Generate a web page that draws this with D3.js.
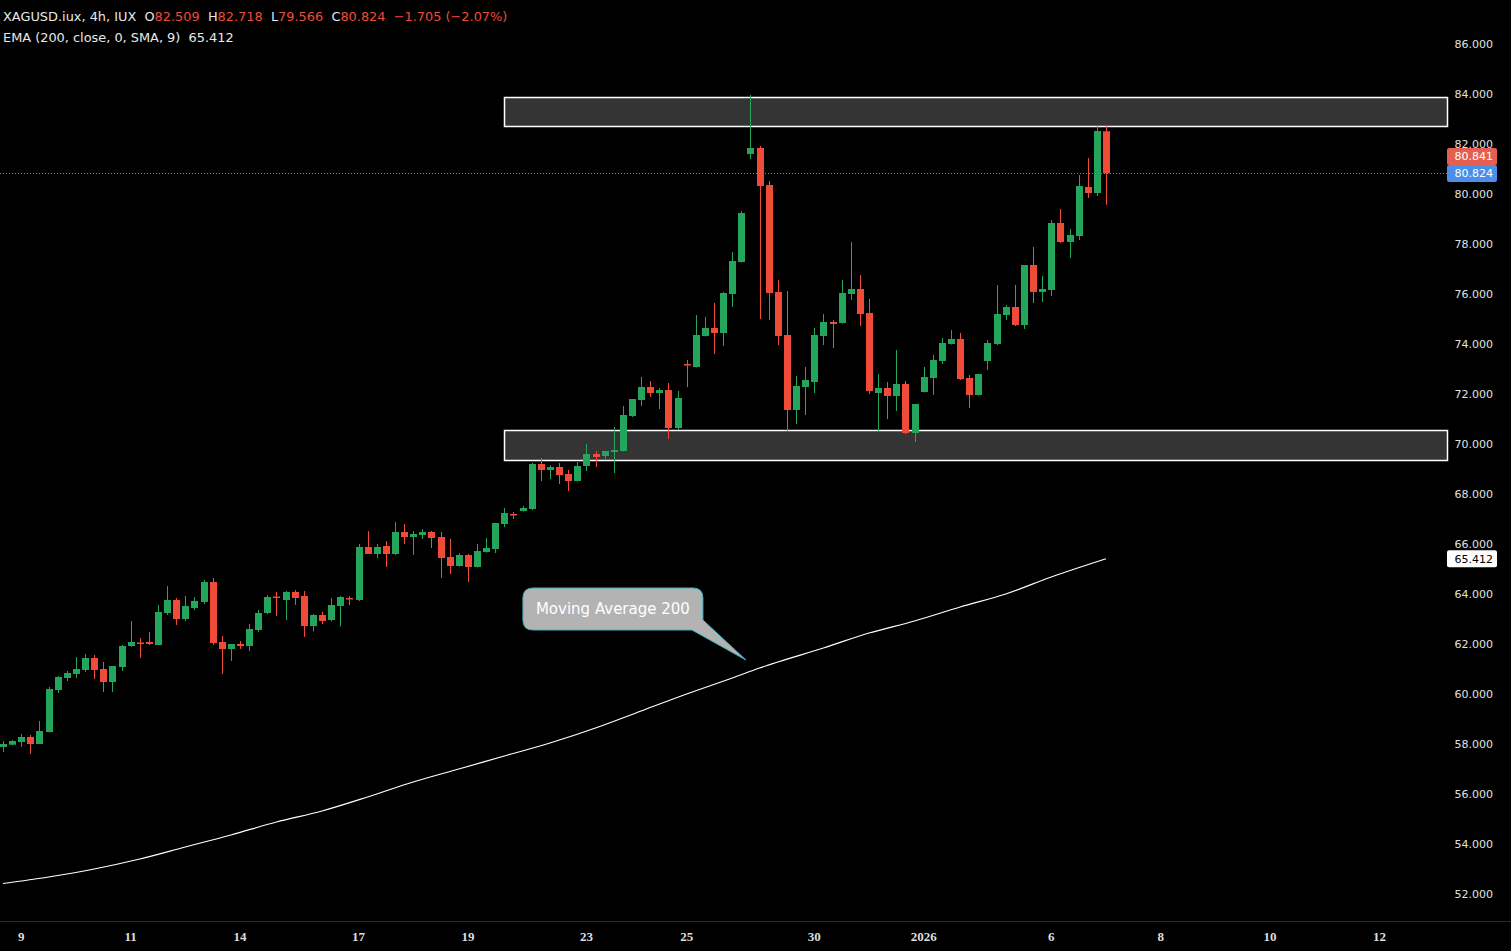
<!DOCTYPE html>
<html>
<head>
<meta charset="utf-8">
<script src="https://cdn.jsdelivr.net/npm/d3@7"></script>
<style>
  html, body { margin: 0; padding: 0; background: #000; }
  svg { display: block; }
</style>
</head>
<body>
<div id="chart"></div>
<script>
// 4h candles
var opens = [57.88,57.97,58.08,58.28,58.00,58.48,60.16,60.64,60.80,60.96,
  61.44,61.00,60.48,61.08,61.92,62.06,62.08,61.96,63.24,63.76,
  63.00,63.44,63.68,64.48,62.08,61.80,62.00,61.92,62.56,63.24,
  63.90,63.76,64.08,63.92,62.72,63.16,62.96,63.52,63.84,63.76,
  65.88,65.60,65.92,65.60,66.48,66.28,66.36,66.48,66.28,65.48,
  65.12,65.56,65.08,65.68,65.80,66.80,67.20,67.32,67.40,69.20,
  68.96,69.08,68.80,68.52,69.12,69.60,69.52,69.68,69.72,71.12,
  71.76,72.28,72.04,72.16,70.64,73.20,73.08,74.32,74.64,74.44,
  76.00,77.28,81.60,81.84,80.36,76.08,74.36,71.36,72.28,72.48,
  74.32,74.88,74.84,76.00,76.20,75.24,72.04,72.24,71.92,72.40,
  70.44,72.08,72.64,73.32,74.00,74.20,72.64,71.96,73.32,74.00,
  75.16,75.48,74.76,77.16,76.08,76.16,78.84,78.08,78.32,80.28,
  80.04,82.509];
var highs = [58.12,58.16,58.40,58.36,58.92,60.28,60.72,60.92,61.48,61.60,
  61.56,61.28,61.12,61.96,62.92,62.24,62.48,63.56,64.32,63.84,
  63.92,63.88,64.56,64.64,62.32,62.00,62.12,62.80,63.36,63.96,
  64.08,64.12,64.16,64.12,63.20,63.30,63.84,63.92,63.92,66.00,
  66.52,66.00,66.12,66.88,66.80,66.52,66.60,66.52,66.48,66.20,
  65.64,65.60,66.00,66.24,66.84,67.44,67.28,67.52,69.24,69.44,
  69.16,69.24,68.96,69.28,70.00,69.72,69.72,70.68,71.52,71.80,
  72.68,72.52,72.24,72.44,72.12,73.36,75.16,75.08,75.64,76.08,
  77.68,79.32,83.96,81.92,80.52,76.56,76.12,72.72,73.08,74.64,
  75.20,74.96,76.56,78.08,76.76,75.80,72.80,72.48,73.76,72.52,
  71.60,73.08,73.56,74.24,74.56,74.44,72.76,72.80,74.16,76.36,
  75.56,76.36,77.16,77.88,76.72,78.96,79.40,78.60,80.76,81.44,
  82.76,82.718];
var lows = [57.68,57.95,57.88,57.60,58.00,58.46,60.04,60.52,60.64,60.88,
  60.60,60.08,60.08,60.92,61.88,61.44,61.96,61.96,63.16,62.76,
  62.92,63.36,63.60,61.96,60.80,61.32,61.80,61.72,62.48,63.20,
  63.12,62.96,63.56,62.28,62.50,62.80,62.90,62.70,63.56,63.72,
  65.60,65.44,65.08,65.56,66.00,65.56,66.20,65.84,64.64,64.80,
  65.10,64.48,65.06,65.66,65.64,66.68,67.00,67.30,67.36,68.52,
  68.60,68.40,68.12,68.50,68.92,69.08,69.40,68.84,69.70,71.08,
  71.52,71.88,71.40,70.20,70.56,72.28,73.06,74.30,73.60,73.92,
  75.48,77.26,81.40,75.00,74.96,73.96,70.52,70.80,71.16,72.04,
  73.96,73.84,74.82,75.76,74.72,72.00,70.52,71.00,71.32,70.40,
  70.08,72.06,71.96,73.20,73.98,72.56,71.44,71.94,72.96,73.96,
  74.96,74.72,74.60,75.64,75.68,75.92,78.04,77.44,78.16,79.84,
  79.92,79.566];
var closes = [58.00,58.12,58.28,58.00,58.52,60.20,60.68,60.84,61.00,61.44,
  60.96,60.48,61.12,61.92,62.08,62.02,62.00,63.28,63.76,63.00,
  63.52,63.72,64.48,62.04,61.80,62.00,61.92,62.60,63.24,63.88,
  63.84,64.08,63.84,62.72,63.16,62.92,63.56,63.88,63.80,65.88,
  65.60,65.88,65.60,66.48,66.28,66.40,66.48,66.24,65.44,65.12,
  65.56,65.08,65.72,65.84,66.84,67.24,67.16,67.44,69.20,68.96,
  69.08,68.76,68.52,69.12,69.60,69.48,69.72,69.76,71.16,71.80,
  72.28,72.04,72.16,70.64,71.84,73.16,74.36,74.64,74.44,76.04,
  77.32,79.24,81.84,80.32,76.04,74.32,71.36,72.32,72.56,74.36,
  74.88,74.80,76.04,76.20,75.20,72.12,72.24,71.92,72.40,70.44,
  71.60,72.68,73.36,74.04,74.20,72.60,71.96,72.80,74.04,75.20,
  75.48,74.76,77.16,76.08,76.20,78.84,78.08,78.36,80.32,80.04,
  82.52,80.824];

// moving average 200, read at a few candles
var maIndex = [0,5,10,15,20,25,30,35,40,45,50,55,60,65,70,75,80,83,85,90,95,100,105,110,115,121];
var maValues = [52.42,52.68,53.00,53.40,53.88,54.36,54.88,55.32,55.88,56.48,57.00,57.52,58.04,58.64,
  59.32,60.00,60.64,61.04,61.28,61.84,62.44,62.92,63.48,64.00,64.68,65.41];

var dayLabels = ['9','11','14','17','19','23','25','30','2026','6','8','10','12'];
var dayIndex = [2,14,26,39,51,64,75,89,101,115,127,139,151];
var priceTicks = [52,54,56,58,60,62,64,66,68,70,72,74,76,78,80,82,84,86];

// support / resistance boxes
var zoneTops = [83.88, 70.56];
var zoneBottoms = [82.72, 69.36];
var zoneStart = 55;

var lastPrice = 80.824;
var askPrice = 80.841;
var maLast = 65.412;

var green = '#23a65c', red = '#f04b39';

function drawChart(id) {
  var W = 1511, H = 951, axisX = 1447;

  var svg = d3.select(id).append('svg')
      .attr('width', W)
      .attr('height', H)
      .style('background', '#000');

  var x = d3.scaleLinear().domain([0, 121]).range([3, 1106]);
  var y = d3.scaleLinear().domain([52, 86]).range([894, 44]);

  // zones
  zoneTops.forEach(function(t, k) {
    svg.append('rect')
      .attr('x', Math.round(x(zoneStart)) + 0.5)
      .attr('y', Math.round(y(t)) + 0.5)
      .attr('width', axisX - Math.round(x(zoneStart)))
      .attr('height', y(zoneBottoms[k]) - y(t))
      .style('fill', '#343434')
      .style('stroke', '#ffffff')
      .style('stroke-width', 1.5);
  });

  // last price dotted line
  svg.append('line')
    .attr('x1', 0).attr('x2', axisX)
    .attr('y1', Math.round(y(lastPrice)) + 0.5).attr('y2', Math.round(y(lastPrice)) + 0.5)
    .style('stroke', '#4a8fea')
    .style('stroke-width', 1)
    .style('stroke-dasharray', '1,2');

  // moving average
  var maPts = maIndex.map(function(d, i) { return [x(d), y(maValues[i])]; });
  svg.append('path')
    .attr('d', d3.line().curve(d3.curveMonotoneX)(maPts))
    .style('fill', 'none')
    .style('stroke', '#ffffff')
    .style('stroke-width', 1.2);

  // candles
  var idx = d3.range(opens.length);
  var g = svg.append('g');
  g.selectAll('.wick').data(idx).enter()
    .append('line')
    .attr('x1', function(i) { return Math.round(x(i)) + 0.5; })
    .attr('x2', function(i) { return Math.round(x(i)) + 0.5; })
    .attr('y1', function(i) { return y(highs[i]); })
    .attr('y2', function(i) { return y(lows[i]); })
    .style('stroke', function(i) { return closes[i] < opens[i] ? red : green; })
    .style('stroke-width', 1);

  g.selectAll('.body').data(idx).enter()
    .append('rect')
    .attr('x', function(i) { return Math.round(x(i)) - 3; })
    .attr('width', 7)
    .attr('y', function(i) { return y(Math.max(opens[i], closes[i])); })
    .attr('height', function(i) { return Math.max(1.5, Math.abs(y(opens[i]) - y(closes[i]))); })
    .style('fill', function(i) { return closes[i] < opens[i] ? red : green; });

  // callout
  var tipX = x(81.5), tipY = y(61.36);
  var bx = tipX - 223, by = tipY - 72, bw = 180, bh = 42, r = 10;
  var p = 'M' + (bx + r) + ',' + by + ' H' + (bx + bw - r) +
    ' Q' + (bx + bw) + ',' + by + ' ' + (bx + bw) + ',' + (by + r) +
    ' V' + (by + bh - 10) + ' L' + tipX + ',' + tipY +
    ' L' + (bx + bw - 11) + ',' + (by + bh) + ' H' + (bx + r) +
    ' Q' + bx + ',' + (by + bh) + ' ' + bx + ',' + (by + bh - r) +
    ' V' + (by + r) + ' Q' + bx + ',' + by + ' ' + (bx + r) + ',' + by + ' Z';
  svg.append('path')
    .attr('d', p)
    .style('fill', '#b3b3b3')
    .style('stroke', '#3cb2c0')
    .style('stroke-width', 1);
  svg.append('text')
    .attr('x', bx + 13).attr('y', by + 26)
    .text('Moving Average 200')
    .style('font-family', 'DejaVu Sans')
    .style('font-size', '15px')
    .style('fill', '#ffffff');

  // bottom separator
  svg.append('line')
    .attr('x1', 0).attr('x2', W)
    .attr('y1', 921.5).attr('y2', 921.5)
    .style('stroke', '#2a2d35')
    .style('stroke-width', 1);

  // time labels
  svg.selectAll('.tl').data(dayLabels).enter()
    .append('text')
    .attr('x', function(d, i) { return x(dayIndex[i]); })
    .attr('y', 941)
    .attr('text-anchor', 'middle')
    .text(function(d) { return d; })
    .style('font-family', 'Liberation Sans Narrow')
    .style('font-weight', 'bold')
    .style('font-size', '13px')
    .style('fill', '#dedede');

  // price labels
  svg.selectAll('.pl').data(priceTicks).enter()
    .append('text')
    .attr('x', 1493)
    .attr('y', function(d) { return y(d) + 4; })
    .attr('text-anchor', 'end')
    .text(function(d) { return d3.format('.3f')(d); })
    .style('font-family', 'DejaVu Sans')
    .style('font-size', '11px')
    .style('fill', '#e0e0e0');

  function priceTag(cy, val, bg, fg) {
    svg.append('rect')
      .attr('x', axisX).attr('y', cy - 8.5)
      .attr('width', 50).attr('height', 17)
      .attr('rx', 2)
      .style('fill', bg);
    svg.append('text')
      .attr('x', axisX + 46).attr('y', cy + 4)
      .attr('text-anchor', 'end')
      .text(d3.format('.3f')(val))
      .style('font-family', 'DejaVu Sans')
      .style('font-size', '11px')
      .style('fill', fg);
  }
  priceTag(y(lastPrice), lastPrice, '#4a8fea', '#ffffff');
  priceTag(y(lastPrice) - 17, askPrice, '#e35f4f', '#ffffff');
  priceTag(y(maLast), maLast, '#ffffff', '#000000');

  // header
  var h1 = svg.append('text')
    .attr('x', 3).attr('y', 21)
    .style('font-family', 'DejaVu Sans')
    .style('font-size', '12.9px')
    .style('fill', '#e8e8e8')
    .attr('xml:space', 'preserve');
  h1.append('tspan').text('XAGUSD.iux, 4h, IUX  O');
  h1.append('tspan').text('82.509').style('fill', red);
  h1.append('tspan').text('  H');
  h1.append('tspan').text('82.718').style('fill', red);
  h1.append('tspan').text('  L');
  h1.append('tspan').text('79.566').style('fill', red);
  h1.append('tspan').text('  C');
  h1.append('tspan').text('80.824  \u22121.705 (\u22122.07%)').style('fill', red);

  svg.append('text')
    .attr('x', 3).attr('y', 42)
    .attr('xml:space', 'preserve')
    .text('EMA (200, close, 0, SMA, 9)  65.412')
    .style('font-family', 'DejaVu Sans')
    .style('font-size', '12.9px')
    .style('fill', '#e8e8e8');
}

drawChart('#chart');
</script>
</body>
</html>
